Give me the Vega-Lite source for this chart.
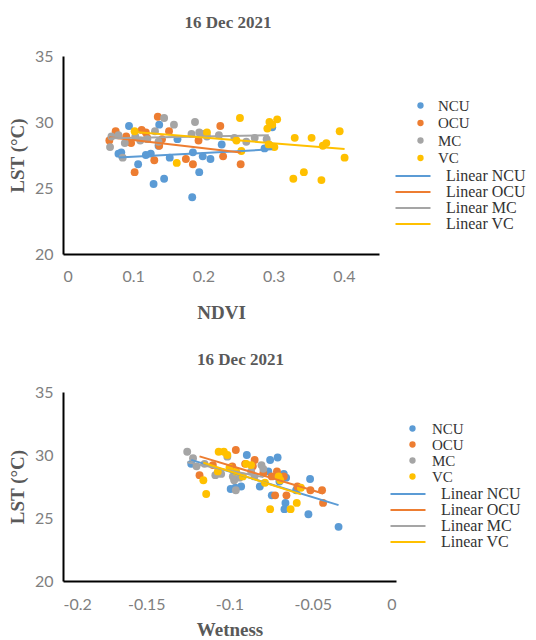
{
  "$schema": "https://vega.github.io/schema/vega-lite/v6.json",
  "padding": {"left": 8, "top": 14, "right": 0, "bottom": 0},
  "spacing": 29,
  "datasets": {
    "ndvi": [
      {"Class": "NCU", "NDVI": 0.094, "LST": 29.7},
      {"Class": "NCU", "NDVI": 0.137, "LST": 29.8},
      {"Class": "NCU", "NDVI": 0.079, "LST": 27.6},
      {"Class": "NCU", "NDVI": 0.083, "LST": 27.7},
      {"Class": "NCU", "NDVI": 0.107, "LST": 26.8},
      {"Class": "NCU", "NDVI": 0.118, "LST": 27.5},
      {"Class": "NCU", "NDVI": 0.125, "LST": 27.6},
      {"Class": "NCU", "NDVI": 0.129, "LST": 25.3},
      {"Class": "NCU", "NDVI": 0.144, "LST": 25.7},
      {"Class": "NCU", "NDVI": 0.152, "LST": 27.3},
      {"Class": "NCU", "NDVI": 0.163, "LST": 28.7},
      {"Class": "NCU", "NDVI": 0.184, "LST": 24.3},
      {"Class": "NCU", "NDVI": 0.185, "LST": 27.7},
      {"Class": "NCU", "NDVI": 0.194, "LST": 26.2},
      {"Class": "NCU", "NDVI": 0.199, "LST": 27.4},
      {"Class": "NCU", "NDVI": 0.21, "LST": 27.2},
      {"Class": "NCU", "NDVI": 0.226, "LST": 28.3},
      {"Class": "NCU", "NDVI": 0.287, "LST": 28.0},
      {"Class": "NCU", "NDVI": 0.295, "LST": 28.2},
      {"Class": "NCU", "NDVI": 0.298, "LST": 29.6},
      {"Class": "NCU", "NDVI": 0.136, "LST": 28.2},
      {"Class": "OCU", "NDVI": 0.066, "LST": 28.6},
      {"Class": "OCU", "NDVI": 0.075, "LST": 29.3},
      {"Class": "OCU", "NDVI": 0.097, "LST": 28.4},
      {"Class": "OCU", "NDVI": 0.102, "LST": 26.2},
      {"Class": "OCU", "NDVI": 0.112, "LST": 29.4},
      {"Class": "OCU", "NDVI": 0.118, "LST": 29.2},
      {"Class": "OCU", "NDVI": 0.135, "LST": 30.4},
      {"Class": "OCU", "NDVI": 0.137, "LST": 28.2},
      {"Class": "OCU", "NDVI": 0.141, "LST": 28.7},
      {"Class": "OCU", "NDVI": 0.13, "LST": 27.1},
      {"Class": "OCU", "NDVI": 0.151, "LST": 29.3},
      {"Class": "OCU", "NDVI": 0.175, "LST": 27.2},
      {"Class": "OCU", "NDVI": 0.185, "LST": 26.8},
      {"Class": "OCU", "NDVI": 0.193, "LST": 28.6},
      {"Class": "OCU", "NDVI": 0.224, "LST": 29.7},
      {"Class": "OCU", "NDVI": 0.228, "LST": 27.4},
      {"Class": "OCU", "NDVI": 0.253, "LST": 26.8},
      {"Class": "OCU", "NDVI": 0.09, "LST": 28.9},
      {"Class": "OCU", "NDVI": 0.12, "LST": 28.8},
      {"Class": "MC", "NDVI": 0.067, "LST": 28.1},
      {"Class": "MC", "NDVI": 0.069, "LST": 28.9},
      {"Class": "MC", "NDVI": 0.079, "LST": 29.0},
      {"Class": "MC", "NDVI": 0.085, "LST": 27.3},
      {"Class": "MC", "NDVI": 0.088, "LST": 28.4},
      {"Class": "MC", "NDVI": 0.103, "LST": 28.9},
      {"Class": "MC", "NDVI": 0.12, "LST": 28.7},
      {"Class": "MC", "NDVI": 0.131, "LST": 29.3},
      {"Class": "MC", "NDVI": 0.136, "LST": 28.5},
      {"Class": "MC", "NDVI": 0.144, "LST": 30.3},
      {"Class": "MC", "NDVI": 0.158, "LST": 29.8},
      {"Class": "MC", "NDVI": 0.188, "LST": 30.0},
      {"Class": "MC", "NDVI": 0.183, "LST": 29.1},
      {"Class": "MC", "NDVI": 0.194, "LST": 29.2},
      {"Class": "MC", "NDVI": 0.205, "LST": 28.9},
      {"Class": "MC", "NDVI": 0.222, "LST": 29.0},
      {"Class": "MC", "NDVI": 0.244, "LST": 28.8},
      {"Class": "MC", "NDVI": 0.261, "LST": 28.5},
      {"Class": "MC", "NDVI": 0.273, "LST": 28.8},
      {"Class": "MC", "NDVI": 0.29, "LST": 28.7},
      {"Class": "MC", "NDVI": 0.293, "LST": 28.3},
      {"Class": "MC", "NDVI": 0.11, "LST": 28.6},
      {"Class": "MC", "NDVI": 0.2, "LST": 29.1},
      {"Class": "VC", "NDVI": 0.102, "LST": 29.3},
      {"Class": "VC", "NDVI": 0.162, "LST": 26.9},
      {"Class": "VC", "NDVI": 0.205, "LST": 29.2},
      {"Class": "VC", "NDVI": 0.252, "LST": 30.3},
      {"Class": "VC", "NDVI": 0.254, "LST": 27.8},
      {"Class": "VC", "NDVI": 0.247, "LST": 28.6},
      {"Class": "VC", "NDVI": 0.291, "LST": 29.5},
      {"Class": "VC", "NDVI": 0.294, "LST": 30.0},
      {"Class": "VC", "NDVI": 0.305, "LST": 30.2},
      {"Class": "VC", "NDVI": 0.293, "LST": 28.3},
      {"Class": "VC", "NDVI": 0.301, "LST": 28.1},
      {"Class": "VC", "NDVI": 0.33, "LST": 28.8},
      {"Class": "VC", "NDVI": 0.354, "LST": 28.8},
      {"Class": "VC", "NDVI": 0.328, "LST": 25.7},
      {"Class": "VC", "NDVI": 0.343, "LST": 26.2},
      {"Class": "VC", "NDVI": 0.368, "LST": 25.6},
      {"Class": "VC", "NDVI": 0.37, "LST": 28.2},
      {"Class": "VC", "NDVI": 0.375, "LST": 28.4},
      {"Class": "VC", "NDVI": 0.394, "LST": 29.3},
      {"Class": "VC", "NDVI": 0.401, "LST": 27.3},
      {"Class": "VC", "NDVI": 0.298, "LST": 29.8}
    ],
    "wet": [
      {"Class": "NCU", "Wetness": -0.0896, "LST": 30.0},
      {"Class": "NCU", "Wetness": -0.0756, "LST": 29.6},
      {"Class": "NCU", "Wetness": -0.0711, "LST": 29.8},
      {"Class": "NCU", "Wetness": -0.0767, "LST": 28.7},
      {"Class": "NCU", "Wetness": -0.0674, "LST": 28.5},
      {"Class": "NCU", "Wetness": -0.066, "LST": 28.2},
      {"Class": "NCU", "Wetness": -0.0516, "LST": 28.1},
      {"Class": "NCU", "Wetness": -0.0993, "LST": 27.3},
      {"Class": "NCU", "Wetness": -0.093, "LST": 27.5},
      {"Class": "NCU", "Wetness": -0.0818, "LST": 27.5},
      {"Class": "NCU", "Wetness": -0.0746, "LST": 26.8},
      {"Class": "NCU", "Wetness": -0.0664, "LST": 26.2},
      {"Class": "NCU", "Wetness": -0.067, "LST": 25.7},
      {"Class": "NCU", "Wetness": -0.0526, "LST": 25.3},
      {"Class": "NCU", "Wetness": -0.0345, "LST": 24.3},
      {"Class": "NCU", "Wetness": -0.0965, "LST": 27.4},
      {"Class": "NCU", "Wetness": -0.07, "LST": 27.9},
      {"Class": "NCU", "Wetness": -0.06, "LST": 27.2},
      {"Class": "NCU", "Wetness": -0.123, "LST": 29.3},
      {"Class": "OCU", "Wetness": -0.0962, "LST": 30.4},
      {"Class": "OCU", "Wetness": -0.118, "LST": 28.4},
      {"Class": "OCU", "Wetness": -0.0906, "LST": 29.3},
      {"Class": "OCU", "Wetness": -0.0849, "LST": 29.6},
      {"Class": "OCU", "Wetness": -0.086, "LST": 29.1},
      {"Class": "OCU", "Wetness": -0.0715, "LST": 28.7},
      {"Class": "OCU", "Wetness": -0.0746, "LST": 28.3},
      {"Class": "OCU", "Wetness": -0.0726, "LST": 26.8},
      {"Class": "OCU", "Wetness": -0.0658, "LST": 26.8},
      {"Class": "OCU", "Wetness": -0.0592, "LST": 27.5},
      {"Class": "OCU", "Wetness": -0.0514, "LST": 27.2},
      {"Class": "OCU", "Wetness": -0.0444, "LST": 27.2},
      {"Class": "OCU", "Wetness": -0.0438, "LST": 26.2},
      {"Class": "OCU", "Wetness": -0.0983, "LST": 29.1},
      {"Class": "OCU", "Wetness": -0.0797, "LST": 28.55},
      {"Class": "OCU", "Wetness": -0.0674, "LST": 28.3},
      {"Class": "OCU", "Wetness": -0.11, "LST": 29.2},
      {"Class": "MC", "Wetness": -0.1254, "LST": 30.26},
      {"Class": "MC", "Wetness": -0.1219, "LST": 29.74},
      {"Class": "MC", "Wetness": -0.1198, "LST": 29.1},
      {"Class": "MC", "Wetness": -0.1085, "LST": 28.4},
      {"Class": "MC", "Wetness": -0.1013, "LST": 29.87},
      {"Class": "MC", "Wetness": -0.0972, "LST": 28.0},
      {"Class": "MC", "Wetness": -0.0962, "LST": 27.2},
      {"Class": "MC", "Wetness": -0.0808, "LST": 29.2},
      {"Class": "MC", "Wetness": -0.0797, "LST": 28.9},
      {"Class": "MC", "Wetness": -0.087, "LST": 28.7},
      {"Class": "MC", "Wetness": -0.115, "LST": 29.3},
      {"Class": "MC", "Wetness": -0.094, "LST": 28.2},
      {"Class": "MC", "Wetness": -0.098, "LST": 28.3},
      {"Class": "MC", "Wetness": -0.085, "LST": 28.3},
      {"Class": "MC", "Wetness": -0.105, "LST": 28.5},
      {"Class": "VC", "Wetness": -0.1065, "LST": 30.26},
      {"Class": "VC", "Wetness": -0.1034, "LST": 30.26},
      {"Class": "VC", "Wetness": -0.1013, "LST": 30.0},
      {"Class": "VC", "Wetness": -0.1157, "LST": 28.0},
      {"Class": "VC", "Wetness": -0.114, "LST": 26.9},
      {"Class": "VC", "Wetness": -0.107, "LST": 28.7},
      {"Class": "VC", "Wetness": -0.096, "LST": 28.7},
      {"Class": "VC", "Wetness": -0.09, "LST": 29.3},
      {"Class": "VC", "Wetness": -0.087, "LST": 29.2},
      {"Class": "VC", "Wetness": -0.092, "LST": 28.3},
      {"Class": "VC", "Wetness": -0.0787, "LST": 27.8},
      {"Class": "VC", "Wetness": -0.0756, "LST": 25.7},
      {"Class": "VC", "Wetness": -0.0705, "LST": 28.3},
      {"Class": "VC", "Wetness": -0.0695, "LST": 28.0},
      {"Class": "VC", "Wetness": -0.0633, "LST": 25.7},
      {"Class": "VC", "Wetness": -0.0596, "LST": 26.2},
      {"Class": "VC", "Wetness": -0.0571, "LST": 27.4},
      {"Class": "VC", "Wetness": -0.1, "LST": 29.0}
    ]
  },
  "vconcat": [
    {
      "data": {"name": "ndvi"},
      "width": 316,
      "height": 198,
      "title": {"text": "16 Dec 2021", "offset": 16, "dx": 7},
      "layer": [
        {
          "mark": {"type": "circle", "size": 62, "opacity": 1},
          "encoding": {
            "x": {"field": "NDVI", "type": "quantitative", "scale": {"domain": [0, 0.45], "nice": false, "zero": false},
                  "axis": {"values": [0, 0.1, 0.2, 0.3, 0.4], "labelExpr": "toString(datum.value)", "title": "NDVI", "labelPadding": 14, "titlePadding": 19}},
            "y": {"field": "LST", "type": "quantitative", "scale": {"domain": [20, 35], "nice": false, "zero": false},
                  "axis": {"values": [20, 25, 30, 35], "title": "LST (°C)"}},
            "color": {"field": "Class", "type": "nominal",
                      "scale": {"domain": ["NCU", "OCU", "MC", "VC"], "range": ["#5B9BD5", "#ED7D31", "#A5A5A5", "#FFC000"]},
                      "legend": {"orient": "none", "legendX": 350, "legendY": 42, "title": null, "symbolType": "circle", "symbolSize": 40, "labelOffset": 10, "rowPadding": 1.5, "labelFontSize": 15}}
          }
        },
        {
          "transform": [
            {"regression": "LST", "on": "NDVI", "groupby": ["Class"], "method": "linear"},
            {"calculate": "'Linear ' + datum.Class", "as": "Trend"}
          ],
          "mark": {"type": "line", "strokeWidth": 2},
          "encoding": {
            "x": {"field": "NDVI", "type": "quantitative"},
            "y": {"field": "LST", "type": "quantitative"},
            "stroke": {"field": "Trend", "type": "nominal",
                       "scale": {"domain": ["Linear NCU", "Linear OCU", "Linear MC", "Linear VC"], "range": ["#5B9BD5", "#ED7D31", "#A5A5A5", "#FFC000"]},
                       "legend": {"orient": "none", "legendX": 342, "legendY": 112, "title": null, "symbolType": "M-2.5,0H2.5", "symbolSize": 196, "symbolStrokeWidth": 2, "labelOffset": 25, "rowPadding": 0, "labelFontSize": 16}}
          }
        }
      ]
    },
    {
      "data": {"name": "wet"},
      "width": 333,
      "height": 189,
      "title": {"text": "16 Dec 2021", "offset": 15, "dx": 11},
      "layer": [
        {
          "mark": {"type": "circle", "size": 62, "opacity": 1},
          "encoding": {
            "x": {"field": "Wetness", "type": "quantitative", "scale": {"domain": [-0.2, 0], "nice": false, "zero": false},
                  "axis": {"values": [-0.2, -0.15, -0.1, -0.05, 0], "labelExpr": "toString(datum.value)", "title": "Wetness", "labelPadding": 15, "titlePadding": 8}},
            "y": {"field": "LST", "type": "quantitative", "scale": {"domain": [20, 35], "nice": false, "zero": false},
                  "axis": {"values": [20, 25, 30, 35], "title": "LST (°C)"}},
            "color": {"field": "Class", "type": "nominal",
                      "scale": {"domain": ["NCU", "OCU", "MC", "VC"], "range": ["#5B9BD5", "#ED7D31", "#A5A5A5", "#FFC000"]},
                      "legend": {"orient": "none", "legendX": 342, "legendY": 29, "title": null, "symbolType": "circle", "symbolSize": 40, "labelOffset": 12, "rowPadding": 0, "labelFontSize": 15}}
          }
        },
        {
          "transform": [
            {"regression": "LST", "on": "Wetness", "groupby": ["Class"], "method": "linear"},
            {"calculate": "'Linear ' + datum.Class", "as": "Trend"}
          ],
          "mark": {"type": "line", "strokeWidth": 2},
          "encoding": {
            "x": {"field": "Wetness", "type": "quantitative"},
            "y": {"field": "LST", "type": "quantitative"},
            "stroke": {"field": "Trend", "type": "nominal",
                       "scale": {"domain": ["Linear NCU", "Linear OCU", "Linear MC", "Linear VC"], "range": ["#5B9BD5", "#ED7D31", "#A5A5A5", "#FFC000"]},
                       "legend": {"orient": "none", "legendX": 337, "legendY": 94, "title": null, "symbolType": "M-2.5,0H2.5", "symbolSize": 196, "symbolStrokeWidth": 2, "labelOffset": 25, "rowPadding": 0, "labelFontSize": 16}}
          }
        }
      ]
    }
  ],
  "resolve": {"scale": {"color": "independent", "stroke": "independent"}},
  "config": {
    "view": {"stroke": null},
    "title": {"font": "Liberation Serif", "fontWeight": "bold", "fontSize": 17, "color": "#595959", "anchor": "middle"},
    "axis": {
      "grid": false, "ticks": false, "domainColor": "#000000", "domainWidth": 2,
      "labelFont": "Lato", "labelFontSize": 16, "labelColor": "#7f7f7f",
      "titleFont": "Liberation Serif", "titleFontWeight": "bold", "titleFontSize": 19, "titleColor": "#595959"
    },
    "axisY": {"labelPadding": 10, "titlePadding": 7},
    "legend": {"labelFont": "Liberation Serif", "labelColor": "#333333", "padding": 0}
  }
}
